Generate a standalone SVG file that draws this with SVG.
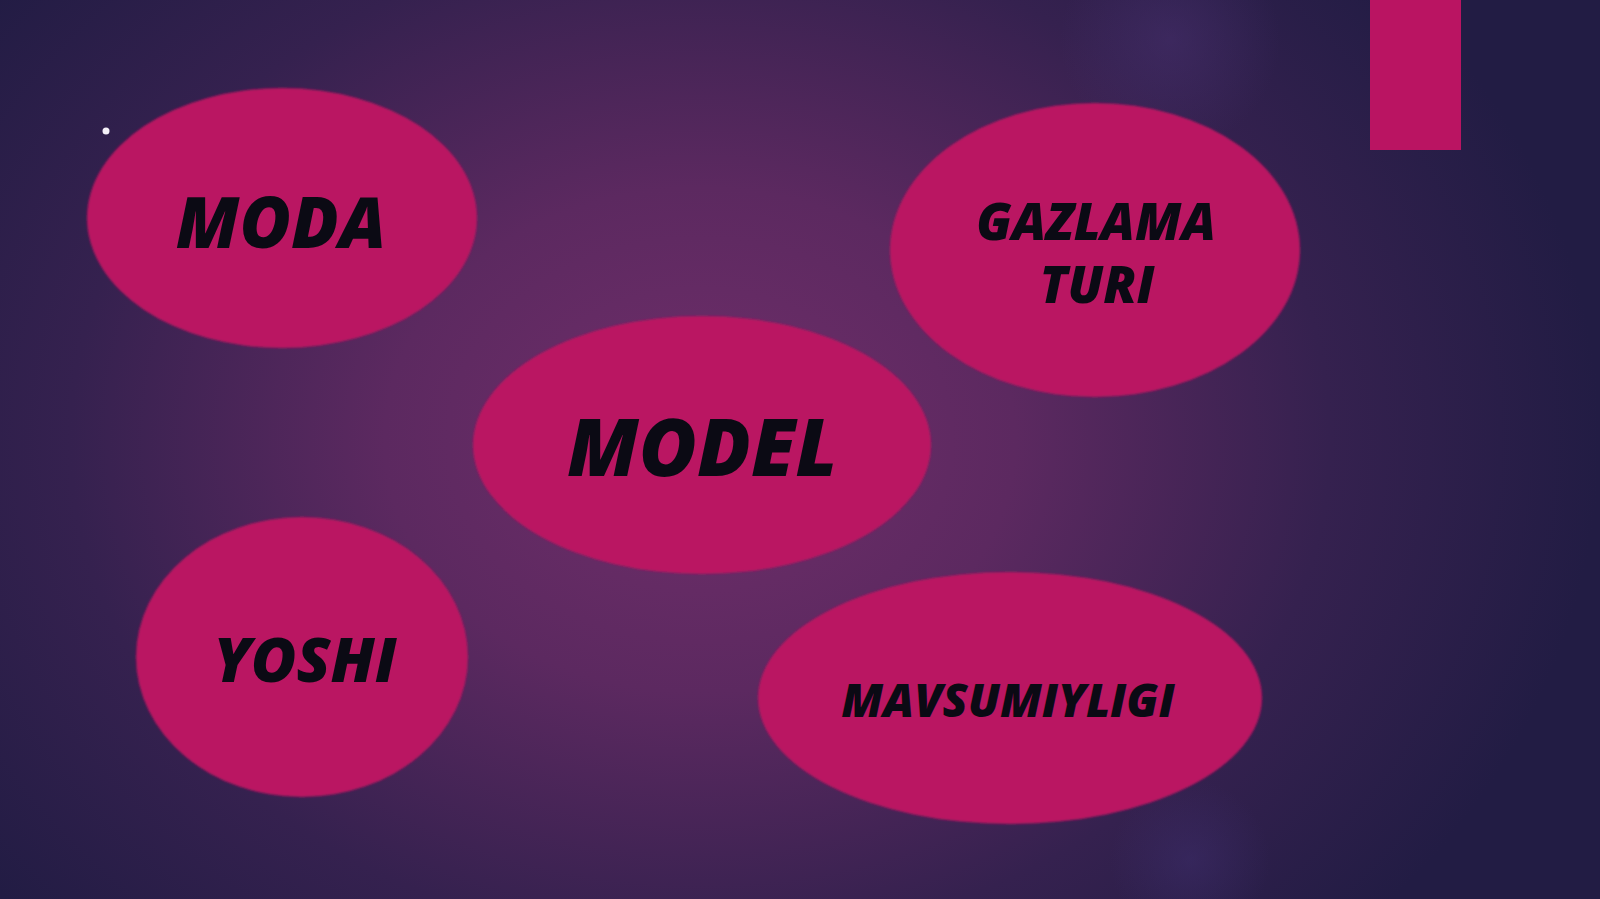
<svg xmlns="http://www.w3.org/2000/svg" width="1600" height="899" viewBox="0 0 1600 899">
  <defs>
    <radialGradient id="bg" cx="700" cy="440" r="900" gradientUnits="userSpaceOnUse" gradientTransform="translate(700 440) scale(1 0.8) translate(-700 -440)">
      <stop offset="0" stop-color="#702e6a"/>
      <stop offset="0.35" stop-color="#5c2960"/>
      <stop offset="0.7" stop-color="#35214f"/>
      <stop offset="1" stop-color="#221c44"/>
    </radialGradient>
    <radialGradient id="glow1" cx="1170" cy="40" r="110" gradientUnits="userSpaceOnUse">
      <stop offset="0" stop-color="#4a3273" stop-opacity="0.45"/>
      <stop offset="1" stop-color="#4a3273" stop-opacity="0"/>
    </radialGradient>
    <radialGradient id="glow2" cx="1190" cy="860" r="80" gradientUnits="userSpaceOnUse">
      <stop offset="0" stop-color="#3f2f70" stop-opacity="0.45"/>
      <stop offset="1" stop-color="#3f2f70" stop-opacity="0"/>
    </radialGradient>
    <filter id="soft" x="-5%" y="-5%" width="110%" height="110%">
      <feGaussianBlur stdDeviation="1.2"/>
    </filter>
    <style>
      .bubble { fill: #ba1462; filter: url(#soft); }
      .label { font-family: "Open Sans", "Noto Sans", "DejaVu Sans", sans-serif; font-weight: 800; font-style: italic; fill: #0b0a14; text-anchor: middle; }
    </style>
  </defs>

  <rect x="0" y="0" width="1600" height="899" fill="#221c44"/>
  <rect x="0" y="0" width="1600" height="899" fill="url(#bg)"/>
  <rect x="0" y="0" width="1600" height="899" fill="url(#glow1)"/>
  <rect x="0" y="0" width="1600" height="899" fill="url(#glow2)"/>

  <rect x="1370" y="0" width="91" height="150" fill="#ba1462"/>
  <circle cx="106" cy="131" r="3.5" fill="#f4f0f8"/>

  <g id="connectors"></g>

  <g id="node-moda">
    <ellipse class="bubble" cx="282" cy="218" rx="195" ry="130"/>
    <text class="label" x="281" y="248" font-size="70">MODA</text>
  </g>

  <g id="node-gazlama">
    <ellipse class="bubble" cx="1095" cy="250" rx="205" ry="147"/>
    <text class="label" font-size="51"><tspan x="1096" y="240">GAZLAMA</tspan><tspan x="1097" y="303">TURI</tspan></text>
  </g>

  <g id="node-model">
    <ellipse class="bubble" cx="702" cy="445" rx="229" ry="129"/>
    <text class="label" x="702" y="476" font-size="79">MODEL</text>
  </g>

  <g id="node-yoshi">
    <ellipse class="bubble" cx="302" cy="657" rx="166" ry="140"/>
    <text class="label" x="305" y="682" font-size="62">YOSHI</text>
  </g>

  <g id="node-mavsumiyligi">
    <ellipse class="bubble" cx="1010" cy="698" rx="252" ry="126"/>
    <text class="label" x="1008" y="717" font-size="46">MAVSUMIYLIGI</text>
  </g>
</svg>
